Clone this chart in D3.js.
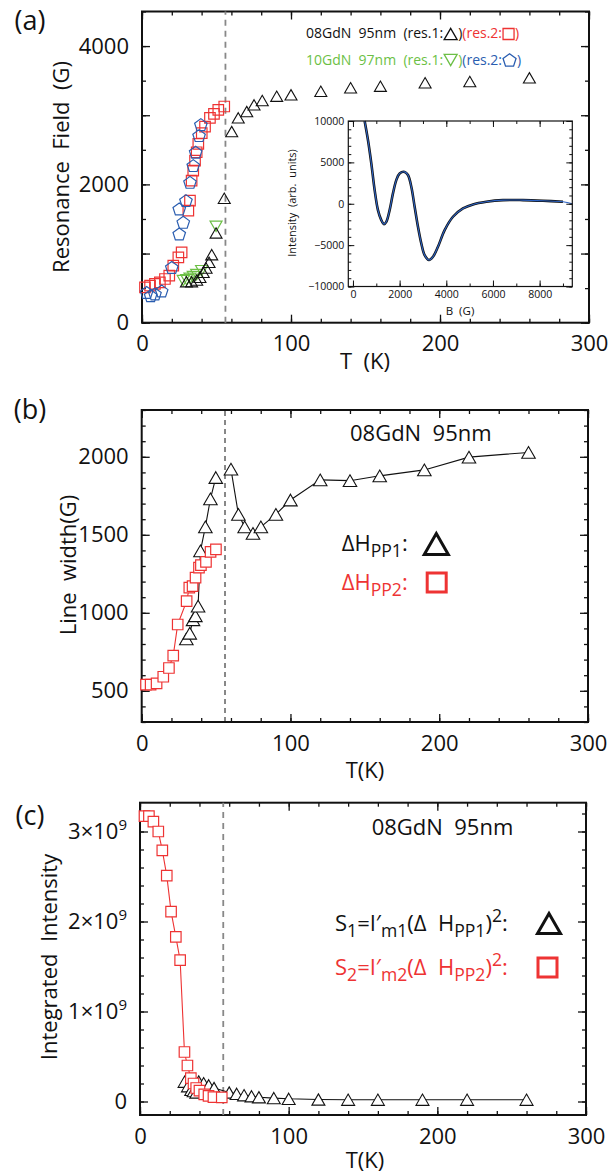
<!DOCTYPE html>
<html><head><meta charset="utf-8">
<script src="https://cdn.jsdelivr.net/npm/d3@7"></script>
<style>
body{margin:0;background:#fff}
svg{display:block;font-family:'Open Sans',sans-serif}
text{white-space:pre}
</style></head><body>
<svg id="chart" width="608" height="1174"></svg>
<script>
// ---------- (a) resonance field ----------
// 08GdN 95nm, resonance 1 (triangles)
const resFieldT_08_r1 = [29.8, 33.3, 36.7, 38.9, 41.1, 43, 45, 46.8, 49.7, 55.2, 60.2, 64.6, 70.3, 75.2, 80.7, 90.4, 100, 120, 140, 160, 190, 220, 260];
const resFieldH_08_r1 = [593, 593, 617, 656, 728, 791, 873, 984, 1298, 1799, 2764, 2962, 3053, 3150, 3213, 3275, 3295, 3347, 3397, 3420, 3469, 3488, 3541];
// 08GdN 95nm, resonance 2 (squares)
const resFieldT_08_r2 = [2, 5.4, 8.7, 12, 15.4, 18.3, 21, 24.4, 26.6, 31.1, 32.2, 33.3, 34.4, 35.6, 36.7, 37.8, 40.1, 42.3, 45.6, 48.3, 51.2, 55.2];
const resFieldH_08_r2 = [511, 535, 560, 583, 632, 680, 825, 945, 1017, 1621, 1766, 2055, 2200, 2344, 2465, 2586, 2740, 2836, 2962, 3020, 3078, 3126];
// 10GdN 97nm, resonance 1 (down triangles)
const resFieldT_10_r1 = [27.7, 30, 32.2, 34.4, 36.7, 40, 49.7];
const resFieldH_10_r1 = [608, 622, 641, 666, 695, 752, 1395];
// 10GdN 97nm, resonance 2 (pentagons)
const resFieldT_10_r2 = [3.1, 5.8, 8.7, 13.2, 20, 25, 27.7, 25, 29.5, 32.2, 34.4, 36, 38.3, 39.5];
const resFieldH_10_r2 = [438, 391, 415, 458, 800, 1284, 1452, 1645, 1766, 2030, 2272, 2465, 2706, 2865];

// inset: ESR spectrum
const spectrumB = [500, 643, 786, 929, 1071, 1214, 1329, 1429, 1571, 1714, 1857, 2000, 2214, 2357, 2500, 2643, 2786, 2929, 3071, 3257, 3429, 3643, 3929, 4286, 4714, 5143, 5714, 6429, 7286, 8143, 9000, 9400];
const spectrumI = [10000, 7700, 4880, 1650, -766, -1980, -2460, -2180, -766, 1250, 2860, 3670, 3850, 3470, 2056, -363, -2780, -4800, -6210, -6800, -6410, -5200, -3185, -1570, -565, -80, 240, 440, 440, 360, 240, 0];

// ---------- (b) line width ----------
const widthT_1 = [30, 32.3, 34.5, 36.1, 37.9, 39.5, 42.8, 46.2, 49.8, 60, 65, 69.2, 74.8, 80.1, 90.2, 100, 120, 140, 160, 190, 220, 260];
const widthH_1 = [833, 869, 955, 981, 1043, 1397, 1551, 1730, 1867, 1921, 1631, 1551, 1509, 1551, 1631, 1723, 1852, 1847, 1878, 1916, 1998, 2028];
const widthT_2 = [2.9, 6, 10, 14.5, 18.3, 21.2, 24.2, 30.2, 32, 34.2, 36.2, 38.5, 39.8, 43.2, 46.3, 49.9];
const widthH_2 = [539, 539, 547, 590, 646, 725, 925, 1075, 1161, 1171, 1225, 1290, 1305, 1326, 1390, 1406];

// ---------- (c) integrated intensity ----------
const intensT_1 = [30, 32.3, 34.5, 36.1, 37.9, 39.5, 42.8, 46.2, 49.8, 60, 65, 70, 75, 80, 90, 100, 120, 140, 160, 190, 220, 260];
const intensS_1 = [0.22e9, 0.17e9, 0.13e9, 0.115e9, 0.10e9, 0.222e9, 0.204e9, 0.18e9, 0.15e9, 0.10e9, 0.085e9, 0.07e9, 0.058e9, 0.047e9, 0.038e9, 0.03e9, 0.022e9, 0.02e9, 0.02e9, 0.02e9, 0.02e9, 0.02e9];
const intensT_2 = [3, 6, 9, 12.3, 15, 18, 20.9, 24.1, 27, 29.9, 31.9, 34.2, 36, 37.8, 40, 43.2, 46.1, 49.4, 55];
const intensS_2 = [3.17e9, 3.17e9, 3.11e9, 3.0e9, 2.79e9, 2.51e9, 2.11e9, 1.83e9, 1.57e9, 0.55e9, 0.40e9, 0.26e9, 0.20e9, 0.15e9, 0.12e9, 0.08e9, 0.063e9, 0.049e9, 0.045e9];

const transitionT = 56;
const tempTicksMajor = [0, 100, 200, 300];
const tempTicksMinor = d3.range(0, 301, 20);

const RED = '#ee3333', GREEN = '#6cbf45', BLUE = '#2a5db0';
const svg = d3.select('#chart');
const zip = (a, b) => a.map((v, i) => [v, b[i]]);

// regular polygon path, centred on its bounding box
function polyPath(n, r, rot) {
  const pts = d3.range(n).map(i => {
    const a = rot + i * 2 * Math.PI / n;
    return [r * Math.cos(a), r * Math.sin(a)];
  });
  const ys = pts.map(p => p[1]), xs = pts.map(p => p[0]);
  const cy = (d3.min(ys) + d3.max(ys)) / 2, cx = (d3.min(xs) + d3.max(xs)) / 2;
  return 'M' + pts.map(p => (p[0] - cx).toFixed(2) + ',' + (p[1] - cy).toFixed(2)).join('L') + 'Z';
}
const shapes = {
  up: w => polyPath(3, w / Math.sqrt(3), -Math.PI / 2),
  down: w => polyPath(3, w / Math.sqrt(3), Math.PI / 2),
  square: w => polyPath(4, w / Math.SQRT2, Math.PI / 4),
  pentagon: w => polyPath(5, w / (2 * Math.sin(2 * Math.PI / 5)), -Math.PI / 2)
};

function markers(g, pts, x, y, shape, w, color, fill, sw) {
  g.append('g').selectAll('path').data(pts).join('path')
    .attr('transform', d => `translate(${x(d[0])},${y(d[1])})`)
    .attr('d', shapes[shape](w))
    .attr('fill', fill).attr('stroke', color).attr('stroke-width', sw);
}

// frame with inward ticks on all four sides
function frame(g, x, y, o) {
  const [xl, xr] = x.range(), [yb, yt] = y.range();
  const axes = [
    [d3.axisBottom, `translate(0,${yb})`, x, o.xMinor, o.xMajor, o.xFmt],
    [d3.axisTop, `translate(0,${yt})`, x, o.xMinor, o.xMajor, null],
    [d3.axisLeft, `translate(${xl},0)`, y, o.yMinor, o.yMajor, o.yFmt],
    [d3.axisRight, `translate(${xr},0)`, y, o.yMinor, o.yMajor, null]
  ];
  axes.forEach(([ax, tr, sc, minor, major, fmt]) => {
    const gm = g.append('g').attr('transform', tr)
      .call(ax(sc).tickValues(minor).tickSize(-o.minorLen).tickSizeOuter(0).tickFormat(''));
    gm.select('.domain').remove();
    const gM = g.append('g').attr('transform', tr)
      .call(ax(sc).tickValues(major).tickSize(-o.majorLen).tickSizeOuter(0)
        .tickPadding(o.pad).tickFormat(fmt || (() => '')));
    gM.select('.domain').remove();
    gM.selectAll('text').attr('font-size', o.fontSize).attr('fill', '#111')
      .attr('font-family', "'Open Sans',sans-serif");
    if (fmt && o.sup && (ax === d3.axisLeft)) o.sup(gM);
    g.selectAll('.tick line').attr('stroke', '#111').attr('stroke-width', o.tickWidth || 1.3);
  });
  g.append('rect').attr('x', xl).attr('y', yt).attr('width', xr - xl).attr('height', yb - yt)
    .attr('fill', 'none').attr('stroke', '#111').attr('stroke-width', o.frameWidth || 2);
}

function label(text, x, y, size, opts = {}) {
  const t = svg.append('text').attr('x', x).attr('y', y).attr('dy', '0.35em')
    .attr('font-size', size).attr('fill', opts.color || '#111')
    .attr('text-anchor', opts.anchor || 'middle').text(text);
  if (opts.rotate) t.attr('transform', `rotate(-90,${x},${y})`);
  return t;
}

// ============ panel (a) ============
const xA = d3.scaleLinear().domain([0, 300]).range([142, 589]);
const yA = d3.scaleLinear().domain([0, 4500]).range([322.7, 11.5]);
const gA = svg.append('g');
frame(gA, xA, yA, {
  xMinor: tempTicksMinor, xMajor: tempTicksMajor, xFmt: d3.format('d'),
  yMinor: d3.range(0, 4501, 500), yMajor: d3.range(0, 4001, 1000),
  yFmt: d => d % 2000 === 0 ? d : '',
  minorLen: 4, majorLen: 8, pad: 13, fontSize: 22
});
gA.append('line').attr('x1', xA(transitionT)).attr('x2', xA(transitionT))
  .attr('y1', yA.range()[0]).attr('y2', yA.range()[1])
  .attr('stroke', '#888').attr('stroke-width', 1.8).attr('stroke-dasharray', '6,5');
markers(gA, zip(resFieldT_10_r1, resFieldH_10_r1), xA, yA, 'down', 12, GREEN, 'none', 1.2);
markers(gA, zip(resFieldT_08_r1, resFieldH_08_r1), xA, yA, 'up', 12, '#111', 'none', 1.1);
markers(gA, zip(resFieldT_08_r2, resFieldH_08_r2), xA, yA, 'square', 10.5, RED, 'none', 1.2);
markers(gA, zip(resFieldT_10_r2, resFieldH_10_r2), xA, yA, 'pentagon', 12.5, BLUE, 'none', 1.2);

// legend rows built from text pieces and inline symbols
function legendRow(g, x0, y, size, parts) {
  let cx = x0;
  parts.forEach(p => {
    if (p.text !== undefined) {
      const t = g.append('text').attr('x', cx).attr('y', y).attr('dy', '0.35em')
        .attr('font-size', size).attr('fill', p.color).text(p.text);
      cx += t.node().getComputedTextLength();
    } else {
      cx += p.gap || 1;
      g.append('path').attr('transform', `translate(${cx + p.w / 2},${y + (p.dy || 0)})`)
        .attr('d', shapes[p.shape](p.w)).attr('fill', 'none')
        .attr('stroke', p.color).attr('stroke-width', p.sw || 1.3);
      cx += p.w + (p.gap || 1);
    }
  });
}
legendRow(gA, 306, 33.5, 14, [
  { text: '08GdN  95nm  (res.1:', color: '#111' },
  { shape: 'up', w: 13, color: '#111', dy: 0.5 },
  { text: ')', color: '#111' },
  { text: '(res.2:', color: RED },
  { shape: 'square', w: 11, color: RED, dy: 0.5 },
  { text: ')', color: RED }
]);
legendRow(gA, 306, 60, 14, [
  { text: '10GdN  97nm  (res.1:', color: GREEN },
  { shape: 'down', w: 13, color: GREEN, dy: 0 },
  { text: ')', color: GREEN },
  { text: '(res.2:', color: BLUE },
  { shape: 'pentagon', w: 13, color: BLUE, dy: 0 },
  { text: ')', color: BLUE }
]);

// inset spectrum
const xI = d3.scaleLinear().domain([-200, 9400]).range([348.3, 572.3]);
const yI = d3.scaleLinear().domain([-10000, 10000]).range([286.5, 121]);
const gI = svg.append('g');
gI.append('rect').attr('x', 348.3).attr('y', 121).attr('width', 224).attr('height', 165.5).attr('fill', '#fff');
const specLine = d3.line().x(d => xI(d[0])).y(d => yI(d[1])).curve(d3.curveCatmullRom);
const spec = zip(spectrumB, spectrumI);
gI.append('path').attr('d', specLine(spec.filter(d => d[0] <= 9000)))
  .attr('fill', 'none').attr('stroke', '#111').attr('stroke-width', 2.6);
gI.append('path').attr('d', specLine(spec))
  .attr('fill', 'none').attr('stroke', '#2b62c4').attr('stroke-width', 1.1);
frame(gI, xI, yI, {
  xMinor: d3.range(0, 9001, 1000), xMajor: d3.range(0, 8001, 2000), xFmt: d3.format('d'),
  yMinor: d3.range(-10000, 10001, 1000), yMajor: d3.range(-10000, 10001, 5000), yFmt: d3.format('d'),
  minorLen: 3, majorLen: 6, pad: 4, fontSize: 10.5, frameWidth: 1.2, tickWidth: 1
});
gI.selectAll('.tick text').attr('font-size', 10.5);
label('B  (G)', 460, 311, 11.5);
label('Intensity  (arb.  units)', 292, 203, 11, { rotate: true });

label('(a)', 30, 21, 27);
label('Resonance  Field  (G)', 61, 167, 22, { rotate: true });
label('T  (K)', 365, 361, 22);

// ============ panel (b) ============
const xB = d3.scaleLinear().domain([0, 300]).range([141.7, 588]);
const yB = d3.scaleLinear().domain([300, 2300]).range([722, 410]);
const gB = svg.append('g');
frame(gB, xB, yB, {
  xMinor: tempTicksMinor, xMajor: tempTicksMajor, xFmt: d3.format('d'),
  yMinor: d3.range(300, 2301, 100), yMajor: d3.range(500, 2001, 500), yFmt: d3.format('d'),
  minorLen: 4, majorLen: 8, pad: 13, fontSize: 22
});
gB.append('line').attr('x1', xB(transitionT)).attr('x2', xB(transitionT))
  .attr('y1', yB.range()[0]).attr('y2', yB.range()[1])
  .attr('stroke', '#111').attr('stroke-width', 1).attr('stroke-dasharray', '5,4');
const lineB = d3.line().x(d => xB(d[0])).y(d => yB(d[1]));
const ptsB1 = zip(widthT_1, widthH_1);
[ptsB1.filter(d => d[0] < transitionT), ptsB1.filter(d => d[0] > transitionT)].forEach(seg =>
  gB.append('path').attr('d', lineB(seg)).attr('fill', 'none').attr('stroke', '#111').attr('stroke-width', 1.1));
markers(gB, ptsB1, xB, yB, 'up', 13.5, '#111', '#fff', 1.1);
const ptsB2 = zip(widthT_2, widthH_2);
gB.append('path').attr('d', lineB(ptsB2)).attr('fill', 'none').attr('stroke', RED).attr('stroke-width', 1.1);
markers(gB, ptsB2, xB, yB, 'square', 10.5, RED, '#fff', 1.2);

label('08GdN  95nm', 350, 433, 22, { anchor: 'start' });
function subLabel(x, y, size, color, pieces) {
  const t = svg.append('text').attr('x', x).attr('y', y).attr('dy', '0.35em')
    .attr('font-size', size).attr('fill', color);
  pieces.forEach(p => {
    const s = t.append('tspan').text(p.t);
    if (p.sub) s.attr('font-size', size * 0.8).attr('dy', p.sub);
    if (p.reset) s.attr('dy', p.reset);
  });
  return t;
}
subLabel(341.7, 543, 22, '#111', [{ t: 'ΔH' }, { t: 'PP1', sub: 6 }, { t: ': ', reset: -6 }]);
subLabel(341.7, 582, 22, RED, [{ t: 'ΔH' }, { t: 'PP2', sub: 6 }, { t: ': ', reset: -6 }]);
svg.append('path').attr('transform', 'translate(436.3,544)').attr('d', shapes.up(24))
  .attr('fill', 'none').attr('stroke', '#111').attr('stroke-width', 3);
svg.append('path').attr('transform', 'translate(436.7,582.5)').attr('d', shapes.square(19))
  .attr('fill', 'none').attr('stroke', RED).attr('stroke-width', 3);

label('(b)', 30, 410, 27);
label('Line  width(G)', 68, 565, 22, { rotate: true });
label('T(K)', 365, 770, 22);

// ============ panel (c) ============
const xC = d3.scaleLinear().domain([0, 300]).range([140, 586]);
const yC = d3.scaleLinear().domain([-1.5e8, 3.32e9]).range([1115, 802.7]);
const gC = svg.append('g');
frame(gC, xC, yC, {
  xMinor: tempTicksMinor, xMajor: tempTicksMajor, xFmt: d3.format('d'),
  yMinor: d3.range(0, 3.21e9, 2e8), yMajor: [0, 1e9, 2e9, 3e9],
  yFmt: d => d === 0 ? '0' : String(d / 1e9),
  sup: gAx => gAx.selectAll('text').each(function (d) {
    if (d === 0) return;
    const t = d3.select(this);
    t.text('');
    t.append('tspan').text(`${d / 1e9}×10`);
    t.append('tspan').text('9').attr('font-size', 15).attr('dy', -9);
  }),
  minorLen: 4, majorLen: 8, pad: 13, fontSize: 22
});
gC.append('line').attr('x1', xC(transitionT)).attr('x2', xC(transitionT))
  .attr('y1', yC.range()[0]).attr('y2', yC.range()[1])
  .attr('stroke', '#888').attr('stroke-width', 1.8).attr('stroke-dasharray', '6,5');
const lineC = d3.line().x(d => xC(d[0])).y(d => yC(d[1]));
const ptsC1 = zip(intensT_1, intensS_1);
gC.append('path').attr('d', lineC(ptsC1)).attr('fill', 'none').attr('stroke', '#111').attr('stroke-width', 1.1);
markers(gC, ptsC1, xC, yC, 'up', 13, '#111', '#fff', 1.1);
const ptsC2 = zip(intensT_2, intensS_2);
gC.append('path').attr('d', lineC(ptsC2)).attr('fill', 'none').attr('stroke', RED).attr('stroke-width', 1.1);
markers(gC, ptsC2, xC, yC, 'square', 10.5, RED, '#fff', 1.2);

label('08GdN  95nm', 371.7, 827, 22, { anchor: 'start' });
const eqPieces = n => [{ t: 'S' }, { t: n, sub: 6 }, { t: '=I′', reset: -6 }, { t: 'm' + n, sub: 6 },
  { t: '(Δ  H', reset: -6 }, { t: 'PP' + n, sub: 6 }, { t: ')', reset: -6 }, { t: '2', sub: -9 }, { t: ':', reset: 9 }];
subLabel(335, 923, 22, '#111', eqPieces('1'));
subLabel(335, 967, 22, RED, eqPieces('2'));
svg.append('path').attr('transform', 'translate(549,923.5)').attr('d', shapes.up(23))
  .attr('fill', 'none').attr('stroke', '#111').attr('stroke-width', 3);
svg.append('path').attr('transform', 'translate(547.5,967.5)').attr('d', shapes.square(19))
  .attr('fill', 'none').attr('stroke', RED).attr('stroke-width', 3);

label('(c)', 30, 816, 27);
label('Integrated  Intensity', 49, 957, 22, { rotate: true });
label('T(K)', 365, 1160, 22);
</script>
</body></html>
